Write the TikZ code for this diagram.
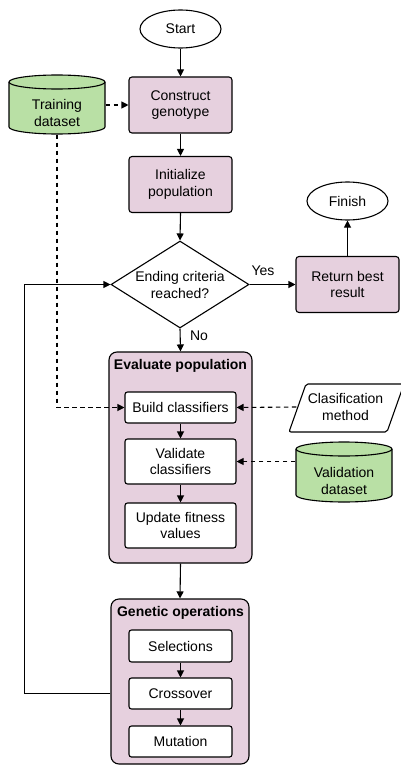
\documentclass[tikz,border=0pt]{standalone}
\usepackage{fontspec}
\setmainfont{Liberation Sans}
\usetikzlibrary{shapes.geometric,arrows.meta,calc}
\definecolor{pinkc}{HTML}{E6D0DE}
\definecolor{greenc}{HTML}{B9E0A5}
\begin{document}
\begin{tikzpicture}[x=1pt,y=-1pt,
  font=\fontsize{14}{16.8}\selectfont,
  line width=1.1pt,
  arr/.style={-{Triangle[length=7pt,width=7pt]}},
  dsh/.style={dash pattern=on 4.5pt off 3.5pt},
  proc/.style={draw, fill=pinkc, rounded corners=3pt, minimum width=103pt, minimum height=56pt, inner sep=0pt, align=center},
  sub/.style={draw, fill=white, rounded corners=2.5pt, inner sep=0pt, align=center},
  cont/.style={draw, fill=pinkc, rounded corners=8pt, inner sep=0pt},
  term/.style={draw, fill=white, ellipse, minimum width=81pt, minimum height=38pt, inner sep=0pt},
  lbl/.style={inner sep=0pt, align=center}
]
\useasboundingbox (0,0) rectangle (401,765);

% terminals
\node[term] (start) at (180.5,29) {Start};
\node[term] (fin) at (347.5,201) {Finish};

% process boxes
\node[proc] (cg) at (180.5,105) {Construct\\genotype};
\node[proc] (ip) at (180.5,184.5) {Initialize\\population};
\node[draw, fill=white, diamond, minimum width=138pt, minimum height=87pt, inner sep=0pt] (dia) at (180,284.5) {};
\node[lbl] (dialbl) at (180,285) {Ending criteria\\reached?};
\node[proc] (rbr) at (347.5,284.5) {Return best\\result};

% training dataset cylinder
\node[minimum width=96pt, minimum height=59pt, inner sep=0pt] (train) at (57,104.5) {};
\draw[fill=greenc] (9,82) -- (9,127) arc[start angle=180,end angle=360,x radius=48pt,y radius=7pt] -- (105,82) arc[start angle=0,end angle=180,x radius=48pt,y radius=7pt] -- cycle;
\draw (9,82) arc[start angle=180,end angle=360,x radius=48pt,y radius=7pt];
\node[lbl] (trainlbl) at (57,113) {Training\\dataset};

% evaluate container
\node[cont, minimum width=143pt, minimum height=211pt] (ev) at (180.5,457.5) {};
\node[lbl, font=\fontsize{14}{16.8}\selectfont\bfseries] (evt) at (180.5,366) {Evaluate population};
\node[sub, minimum width=111pt, minimum height=31pt] (build) at (180.5,407.5) {Build classifiers};
\node[sub, minimum width=111pt, minimum height=45pt] (vc) at (180.5,461.5) {Validate\\classifiers};
\node[sub, minimum width=111pt, minimum height=45pt] (uf) at (180.5,525.5) {Update fitness\\values};

% genetic container
\node[cont, minimum width=138pt, minimum height=165pt] (go) at (180,681.5) {};
\node[lbl, font=\fontsize{14}{16.8}\selectfont\bfseries] (got) at (180.5,613) {Genetic operations};
\node[sub, minimum width=103pt, minimum height=32pt] (sel) at (180.5,646) {Selections};
\node[sub, minimum width=103pt, minimum height=31pt] (cro) at (180.5,693.5) {Crossover};
\node[sub, minimum width=103pt, minimum height=31pt] (mut) at (180.5,741.5) {Mutation};

% classification method parallelogram
\draw[fill=white, rounded corners=2pt] (306,384) -- (404,384) -- (387,432) -- (289,432) -- cycle;
\node[lbl, minimum width=97pt, minimum height=48pt] (cm) at (345.5,407) {Clasification\\method};

% validation dataset cylinder
\node[minimum width=96pt, minimum height=60pt, inner sep=0pt] (val) at (344,472) {};
\draw[fill=greenc] (296,449) -- (296,495) arc[start angle=180,end angle=360,x radius=48pt,y radius=7pt] -- (392,449) arc[start angle=0,end angle=180,x radius=48pt,y radius=7pt] -- cycle;
\draw (296,449) arc[start angle=180,end angle=360,x radius=48pt,y radius=7pt];
\node[lbl] (vallbl) at (344,481) {Validation\\dataset};

% connectors
\draw[arr] (start.south) -- (cg.north);
\draw[arr] (cg.south) -- (ip.north);
\draw[arr] (ip.south) -- (dia.north);
\draw[arr] (dia.east) -- (rbr.west);
\node[lbl] (yes) at (263,271) {Yes};
\draw[arr] (rbr.north) -- (fin.south);
\draw[arr] (dia.south) -- (ev.north);
\node[lbl] (no) at (199,336) {No};
\draw[arr] (build.south) -- (vc.north);
\draw[arr] (vc.south) -- (uf.north);
\draw[arr] (ev.south) -- (go.north);
\draw[arr] (sel.south) -- (cro.north);
\draw[arr] (cro.south) -- (mut.north);
\draw[arr] (go.west |- cro.center) -- ++(-86,0) |- (dia.west);

\draw[arr, dsh] (train.east |- cg.west) -- (cg.west);
\draw[arr, dsh] (train.south) |- (build.west);
\draw[arr, dsh] (cm.west) -- (build.east);
\draw[arr, dsh] (vc.east -| val.west) -- (vc.east);
\end{tikzpicture}
\end{document}
